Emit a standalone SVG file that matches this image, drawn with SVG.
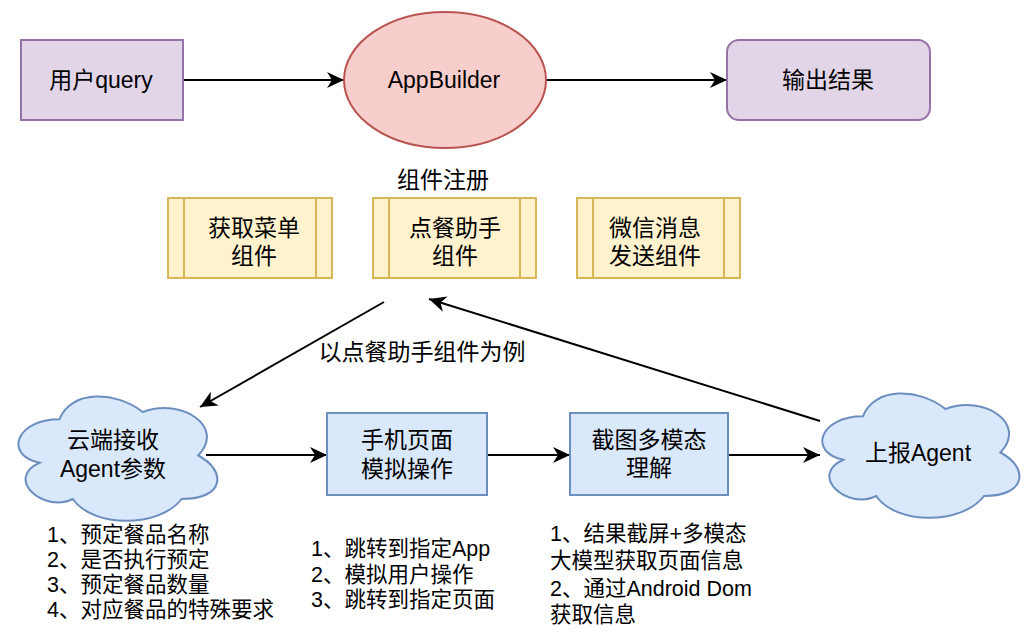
<svg xmlns="http://www.w3.org/2000/svg" width="1034" height="644" viewBox="0 0 1034 644">
<defs>
<style>
text{font-family:"Liberation Sans","Noto Sans CJK SC",sans-serif;fill:#000;}
.lbl{font-size:23px;text-anchor:middle;dominant-baseline:central;}
.lst{font-size:21.5px;text-anchor:start;dominant-baseline:central;}
.purple{fill:#e1d5e7;stroke:#9673a6;stroke-width:2;}
.red{fill:#f8cecc;stroke:#b85450;stroke-width:2;}
.yellow{fill:#fff2cc;stroke:#d6b656;stroke-width:2;}
.blue{fill:#dae8fc;stroke:#6c8ebf;stroke-width:2;}
.edge{fill:none;stroke:#000;stroke-width:2;marker-end:url(#arr);}
</style>
<marker id="arr" markerUnits="userSpaceOnUse" markerWidth="18" markerHeight="16" refX="17" refY="8" orient="auto">
<path d="M0,0 L17,8 L0,16 L5,8 Z" fill="#000"/>
</marker>
</defs>
<rect width="1034" height="644" fill="#fff"/>
<g id="connectors">
<line class="edge" x1="183" y1="80" x2="344" y2="80"/>
<line class="edge" x1="546" y1="80" x2="727" y2="80"/>
<line class="edge" x1="384" y1="302" x2="200" y2="407"/>
<line class="edge" x1="820" y1="421" x2="429" y2="299"/>
<line class="edge" x1="206" y1="455" x2="327" y2="455"/>
<line class="edge" x1="487" y1="455" x2="570" y2="455"/>
<line class="edge" x1="728" y1="455" x2="820" y2="455"/>
</g>
<g id="user-query">
<rect class="purple" x="21" y="40" width="162" height="80"/>
<text class="lbl" x="101" y="80">用户query</text>
</g>
<g id="appbuilder">
<ellipse class="red" cx="445" cy="80" rx="101" ry="68"/>
<text class="lbl" x="444" y="80">AppBuilder</text>
</g>
<g id="output">
<rect class="purple" x="727" y="40" width="203" height="80" rx="12"/>
<text class="lbl" x="828" y="80">输出结果</text>
</g>
<g id="reg-label">
<text class="lbl" x="443" y="180">组件注册</text>
</g>
<g id="comp-menu">
<rect class="yellow" x="168" y="198" width="164" height="80"/>
<line class="yellow" x1="184" y1="198" x2="184" y2="278"/>
<line class="yellow" x1="316" y1="198" x2="316" y2="278"/>
<text class="lbl" x="254" y="228">获取菜单</text>
<text class="lbl" x="254" y="256">组件</text>
</g>
<g id="comp-order">
<rect class="yellow" x="373" y="198" width="163" height="80"/>
<line class="yellow" x1="389" y1="198" x2="389" y2="278"/>
<line class="yellow" x1="520" y1="198" x2="520" y2="278"/>
<text class="lbl" x="455" y="228">点餐助手</text>
<text class="lbl" x="455" y="256">组件</text>
</g>
<g id="comp-wechat">
<rect class="yellow" x="577" y="198" width="163" height="80"/>
<line class="yellow" x1="593" y1="198" x2="593" y2="278"/>
<line class="yellow" x1="724" y1="198" x2="724" y2="278"/>
<text class="lbl" x="655" y="228">微信消息</text>
<text class="lbl" x="655" y="256">发送组件</text>
</g>
<g id="example-label">
<text class="lbl" x="422" y="352">以点餐助手组件为例</text>
</g>
<g id="cloud-receive">
<path class="blue" transform="translate(4,383) scale(222,145)" vector-effect="non-scaling-stroke" d="M0.25,0.25 C0.05,0.25 0,0.5 0.16,0.55 C0,0.66 0.18,0.9 0.31,0.8 C0.4,1 0.7,1 0.8,0.8 C1,0.8 1,0.6 0.875,0.5 C1,0.3 0.8,0.1 0.625,0.2 C0.5,0.05 0.3,0.05 0.25,0.25 Z"/>
<text class="lbl" x="113" y="440">云端接收</text>
<text class="lbl" x="113" y="469">Agent参数</text>
</g>
<g id="phone-sim">
<rect class="blue" x="327" y="413" width="160" height="82"/>
<text class="lbl" x="407" y="440">手机页面</text>
<text class="lbl" x="407" y="469">模拟操作</text>
</g>
<g id="screenshot">
<rect class="blue" x="570" y="413" width="158" height="82"/>
<text class="lbl" x="649" y="440">截图多模态</text>
<text class="lbl" x="649" y="468">理解</text>
</g>
<g id="cloud-report">
<path class="blue" transform="translate(808,380) scale(220,145)" vector-effect="non-scaling-stroke" d="M0.25,0.25 C0.05,0.25 0,0.5 0.16,0.55 C0,0.66 0.18,0.9 0.31,0.8 C0.4,1 0.7,1 0.8,0.8 C1,0.8 1,0.6 0.875,0.5 C1,0.3 0.8,0.1 0.625,0.2 C0.5,0.05 0.3,0.05 0.25,0.25 Z"/>
<text class="lbl" x="918" y="453">上报Agent</text>
</g>
<g id="notes-params">
<text class="lst" x="47" y="535">1、预定餐品名称</text>
<text class="lst" x="47" y="560">2、是否执行预定</text>
<text class="lst" x="47" y="585">3、预定餐品数量</text>
<text class="lst" x="47" y="610">4、对应餐品的特殊要求</text>
</g>
<g id="notes-sim">
<text class="lst" x="311" y="549">1、跳转到指定App</text>
<text class="lst" x="311" y="575">2、模拟用户操作</text>
<text class="lst" x="311" y="600">3、跳转到指定页面</text>
</g>
<g id="notes-shot">
<text class="lst" x="550" y="534">1、结果截屏+多模态</text>
<text class="lst" x="550" y="561">大模型获取页面信息</text>
<text class="lst" x="550" y="589">2、通过Android Dom</text>
<text class="lst" x="550" y="615">获取信息</text>
</g>
</svg>
